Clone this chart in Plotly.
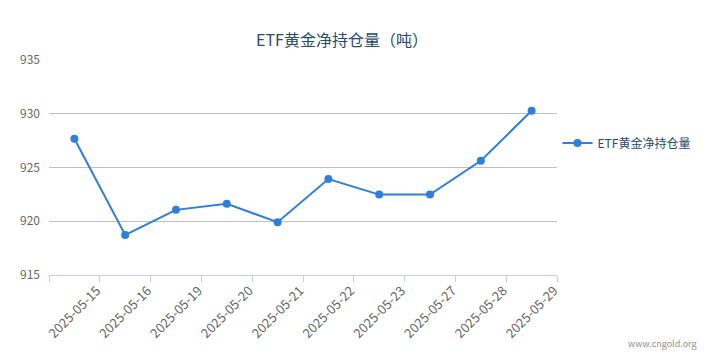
import plotly.graph_objects as go

dates = ["2025-05-15", "2025-05-16", "2025-05-19", "2025-05-20", "2025-05-21",
         "2025-05-22", "2025-05-23", "2025-05-27", "2025-05-28", "2025-05-29"]
holdings = [927.67, 918.73, 921.06, 921.62, 919.91, 923.92, 922.48, 922.48, 925.62, 930.28]
y_ticks = [915, 920, 925, 930, 935]
series_name = "ETF黄金净持仓量"
title_text = "ETF黄金净持仓量（吨）"

FONT = "Noto Sans CJK SC, Microsoft YaHei, sans-serif"
idx = list(range(len(dates)))

# page body has an 8px default margin -> work in figure coords = screen - 8
OFF = 8
W, H = 712 - OFF, 361 - OFF
L, R, T, B = 49 - OFF, 557 - OFF, 60 - OFF, 275 - OFF

fig = go.Figure()
fig.add_trace(go.Scatter(
    x=idx, y=holdings, mode="lines+markers", name=series_name,
    line=dict(color="#2f7ed8", width=2),
    marker=dict(color="#2f7ed8", size=8),
))

fig.update_layout(
    width=W, height=H,
    margin=dict(l=L, r=W - R, t=T, b=H - B, autoexpand=False),
    paper_bgcolor="white", plot_bgcolor="white",
    font=dict(family=FONT, color="#666666", size=11),
    title=dict(text=title_text, x=(342 - OFF) / W, xanchor="center", xref="container",
               y=1 - (40 - OFF) / H, yanchor="middle", yref="container",
               font=dict(family=FONT, size=16, color="#274b6d")),
    showlegend=True,
    legend=dict(x=1.001, xanchor="left", y=(B - (143 - OFF)) / (B - T), yanchor="middle",
                font=dict(family=FONT, size=12, color="#274b6d"),
                itemwidth=30, bgcolor="rgba(0,0,0,0)"),
    xaxis=dict(
        range=[-0.5, len(dates) - 0.5],
        tickmode="array",
        tickvals=[-0.5] + [i + 0.5 for i in idx],
        ticktext=[""] + dates,
        tickangle=-45,
        ticks="outside", ticklen=6, tickcolor="#C0D0E0", tickwidth=1,
        ticklabelstandoff=-4, ticklabelshift=-3,
        showline=True, linecolor="#C0D0E0", linewidth=1,
        showgrid=False, zeroline=False, automargin=False,
        tickfont=dict(family=FONT, size=13, color="#666666"),
        fixedrange=True,
    ),
    yaxis=dict(
        range=[915, 935],
        tickmode="array", tickvals=y_ticks,
        showgrid=True, gridcolor="#C0C0C0", gridwidth=1,
        zeroline=False, showline=False, ticks="", automargin=False,
        ticklabelstandoff=8,
        tickfont=dict(family=FONT, size=12, color="#666666"),
        fixedrange=True,
    ),
    annotations=[dict(
        text="www.cngold.org", xref="paper", yref="paper",
        x=(699 - 49) / (557 - 49), xanchor="right",
        y=(275 - 343) / (275 - 60), yanchor="middle",
        showarrow=False, font=dict(family=FONT, size=9, color="#909090"),
    )],
)

fig.write_html("out.html")
